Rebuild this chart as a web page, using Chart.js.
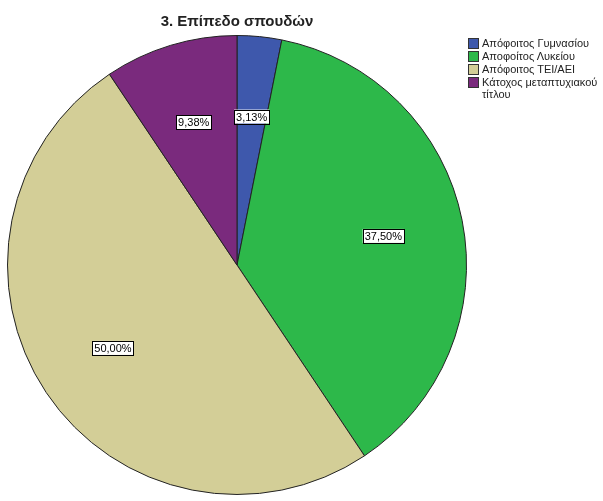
<!DOCTYPE html>
<html><head><meta charset="utf-8">
<script src="https://cdn.jsdelivr.net/npm/chart.js@4"></script>
<style>
body{margin:0;background:#fff;font-family:Arial,"Liberation Sans",sans-serif;}
#wrap{position:relative;width:603px;height:501px;}
#title{position:absolute;left:0;width:474px;top:12px;text-align:center;font-weight:bold;font-size:15px;color:#222;}
#legend{position:absolute;left:468px;top:37px;font-size:11px;color:#222;line-height:12px;}
#legend div{display:flex;align-items:flex-start;margin-bottom:1px;}
#legend span.b{display:inline-block;width:9px;height:9px;border:1px solid #333;margin:1px 3px 0 0;flex:none;}
</style></head><body>
<div id="wrap">
<canvas id="pie" width="603" height="501"></canvas>
<div id="title">3. Επίπεδο σπουδών</div>
<div id="legend"></div>
</div>
<script>
// data
const categories = ['Απόφοιτος Γυμνασίου', 'Αποφοίτος Λυκείου', 'Απόφοιτος ΤΕΙ/ΑΕΙ', 'Κάτοχος μεταπτυχιακού\nτίτλου'];
const percents = [3.13, 37.50, 50.00, 9.38];
const colors = ['#3e58ac', '#2db84a', '#d3ce97', '#7a2a7d'];

// legend
const leg = document.getElementById('legend');
categories.forEach((c, i) => {
    const d = document.createElement('div');
    d.innerHTML = '<span class="b" style="background:' + colors[i] + '"></span><span>' + c.replace('\n', '<br>') + '</span>';
    leg.appendChild(d);
});

// boxed percent labels
const boxLabels = {
    id: 'boxLabels',
    afterDatasetsDraw(chart) {
        const ctx = chart.ctx;
        chart.getDatasetMeta(0).data.forEach((arc, i) => {
            const p = arc.getProps(['x', 'y', 'startAngle', 'endAngle', 'outerRadius'], true);
            const a = (p.startAngle + p.endAngle) / 2;
            const x = p.x + Math.cos(a) * p.outerRadius * 0.65;
            const y = p.y + Math.sin(a) * p.outerRadius * 0.65;
            const txt = percents[i].toFixed(2).replace('.', ',') + '%';
            ctx.save();
            ctx.font = '11px Arial, "Liberation Sans"';
            const w = ctx.measureText(txt).width + 4;
            ctx.fillStyle = '#fff';
            ctx.fillRect(x - w / 2, y - 7, w, 14);
            ctx.strokeStyle = '#000';
            ctx.lineWidth = 1;
            ctx.strokeRect(Math.round(x - w / 2) + 0.5, Math.round(y - 7) + 0.5, Math.round(w), 14);
            ctx.fillStyle = '#000';
            ctx.textAlign = 'center';
            ctx.textBaseline = 'middle';
            ctx.fillText(txt, x, y + 1);
            ctx.restore();
        });
    }
};

new Chart(document.getElementById('pie'), {
    type: 'pie',
    data: {
        labels: categories,
        datasets: [{ data: percents, backgroundColor: colors, borderColor: '#222', borderWidth: 1 }]
    },
    options: {
        responsive: false,
        animation: false,
        layout: { padding: { top: 35, left: 7, right: 136, bottom: 6 } },
        plugins: { legend: { display: false }, tooltip: { enabled: false } }
    },
    plugins: [boxLabels]
});
</script>
</body></html>
